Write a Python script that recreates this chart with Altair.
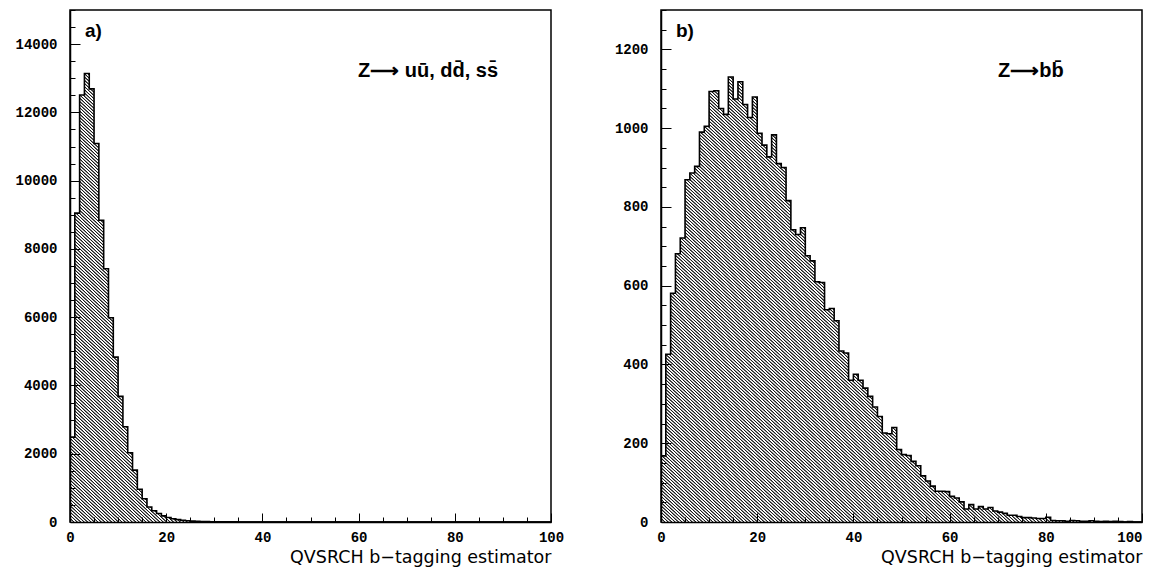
import altair as alt
import pandas as pd

# ---------------- data ----------------
bin_edges = list(range(0, 101))  # 100 bins of width 1 on [0, 100]

counts_uds = [2490, 9050, 12510, 13140, 12690, 11090, 8840, 7420, 5985, 4830,
              3680, 2790, 2030, 1520, 960, 680, 440, 330, 250, 180,
              130, 95, 70, 50, 35, 25, 18, 14, 10, 8,
              6, 5, 4, 3, 3, 2, 2, 1, 1, 1] + [0] * 60

counts_bb = [168, 426, 581, 681, 721, 869, 886, 903, 990, 1005,
             1093, 1095, 1050, 1035, 1130, 1074, 1118, 1060, 1027, 1079,
             987, 957, 927, 983, 910, 900, 816, 742, 730, 747,
             676, 663, 610, 608, 539, 542, 511, 434, 429, 360,
             375, 360, 340, 319, 292, 268, 226, 224, 240, 184,
             171, 169, 154, 143, 117, 104, 91, 78, 78, 77,
             65, 61, 51, 33, 44, 33, 39, 33, 37, 28,
             25, 22, 17, 17, 14, 11, 11, 10, 9, 9,
             12, 4, 3, 3, 2, 4, 3, 2, 2, 3,
             2, 1, 2, 1, 2, 1, 0, 1, 0, 0]

x_labels = [0, 20, 40, 60, 80, 100]
panel_tags = ["a)", "b)"]
reactions = ["Z\u27f6 u\u016b, dd\u0304, ss\u0304", "Z\u27f6bb\u0304"]
x_title = "QVSRCH b\u2212tagging estimator"

W, H = 481, 512


def hatch(n_periods=280):
    stops = []
    for k in range(n_periods):
        p = 1.0 / n_periods
        a = k * p
        stops += [alt.GradientStop(offset=round(a, 6), color="#1a1a1a"),
                  alt.GradientStop(offset=round(a + 0.22 * p, 6), color="#1a1a1a"),
                  alt.GradientStop(offset=round(a + 0.45 * p, 6), color="#ffffff"),
                  alt.GradientStop(offset=round(a + 0.8 * p, 6), color="#ffffff")]
    stops.append(alt.GradientStop(offset=1, color="#1a1a1a"))
    return alt.Gradient(gradient="linear", stops=stops, x1=0, y1=1, x2=1, y2=0)


HATCH = hatch()


def panel(counts, ymax, ymajor, yminor, tag, reaction, rx, last_right):
    df = pd.DataFrame({"x": bin_edges, "y": counts + [counts[-1]]})
    xs = alt.Scale(domain=[0, 100], nice=False, zero=False)
    ys = alt.Scale(domain=[0, ymax], nice=False)

    label_align = ({"condition": {"test": "datum.value === 100", "value": "right"},
                    "value": "center"} if last_right else "center")
    x_lab_axis = alt.Axis(orient="bottom", values=x_labels, ticks=False, domain=True,
                          domainColor="black", domainWidth=1.5, zindex=1, grid=False,
                          labelPadding=8, labelFlush=False, labelOverlap=False,
                          labelAlign=label_align, format="d",
                          title=x_title, titleAnchor="end", titleAlign="right",
                          titlePadding=4)
    y_lab_axis = alt.Axis(orient="left", values=list(range(0, ymax, ymajor)),
                          ticks=False, domain=True, domainColor="black", grid=False,
                          domainWidth=1.5, zindex=1, labelPadding=13, format="d",
                          labelOverlap=False, title=None)
    x_tick_axis = alt.Axis(orient="top", offset=-H, values=list(range(0, 101, 5)),
                           labels=False, domain=False, title=None, zindex=1, grid=False,
                           tickColor="black", tickWidth=1,
                           tickSize={"condition": {"test": "datum.value % 20 === 0", "value": 9},
                                     "value": 5})
    y_tick_axis = alt.Axis(orient="right", offset=-W,
                           values=list(range(0, ymax + 1, yminor)), grid=False,
                           labels=False, domain=False, title=None, zindex=1,
                           tickColor="black", tickWidth=1,
                           tickSize={"condition": {"test": f"datum.value % {ymajor} === 0", "value": 10},
                                     "value": 5})

    area = alt.Chart(df).mark_area(interpolate="step-after", fill=HATCH).encode(
        x=alt.X("x:Q", scale=xs, axis=x_lab_axis),
        y=alt.Y("y:Q", scale=ys, axis=y_lab_axis),
    )
    outline = alt.Chart(df).mark_line(interpolate="step-after", color="black",
                                      strokeWidth=1.6).encode(
        x=alt.X("x:Q", scale=xs, axis=x_tick_axis),
        y=alt.Y("y:Q", scale=ys, axis=y_tick_axis),
    )
    tag_txt = alt.Chart(pd.DataFrame({"t": [tag]})).mark_text(
        align="left", baseline="alphabetic", font="Liberation Sans",
        fontWeight="bold", fontSize=19, color="black").encode(
        x=alt.value(15), y=alt.value(27), text="t:N")
    reac_txt = alt.Chart(pd.DataFrame({"t": [reaction]})).mark_text(
        align="left", baseline="alphabetic", font="Liberation Sans",
        fontWeight="bold", fontSize=20, color="black").encode(
        x=alt.value(rx), y=alt.value(67), text="t:N")

    return alt.layer(area, outline, tag_txt, reac_txt).resolve_axis(
        x="independent", y="independent").properties(width=W, height=H)


left = panel(counts_uds, 15000, 2000, 500, panel_tags[0], reactions[0], 288, False)
right = panel(counts_bb, 1300, 200, 50, panel_tags[1], reactions[1], 337, True)

chart = alt.hconcat(left, right, spacing=48).properties(
    padding={"left": 6, "top": 0, "right": 0, "bottom": 0},
    background="white",
).configure_view(stroke="black", strokeWidth=1.5).configure_axis(
    grid=False, labelFont="Liberation Mono", labelFontWeight="bold",
    labelFontSize=14, labelColor="black", titleFont="DejaVu Sans",
    titleFontWeight="normal", titleFontSize=17.5, titleColor="black",
)

chart.save("out.html", embed_options={"renderer": "svg", "actions": False})
